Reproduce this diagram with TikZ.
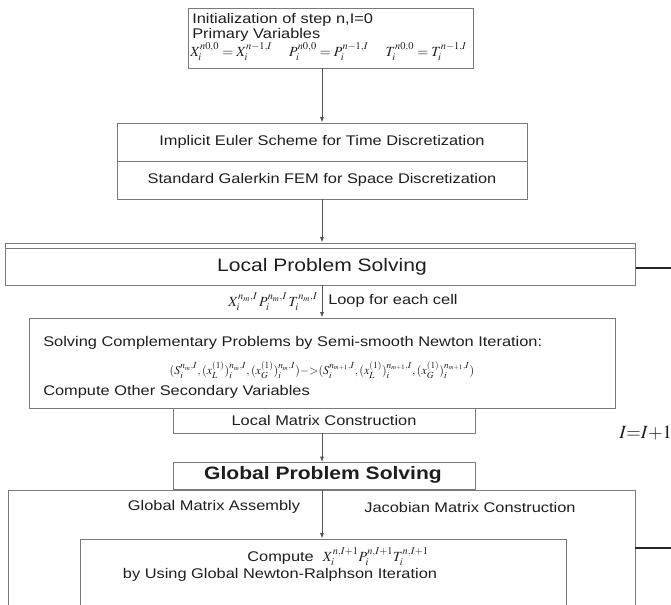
\documentclass[tikz,border=0pt]{standalone}
\usepackage{mathptmx}
\usepackage[no-math]{fontspec}
\setmainfont{Liberation Sans}[FakeStretch=1.17]
\usetikzlibrary{arrows.meta}
\definecolor{lg}{HTML}{7A7A7A}
\definecolor{tx}{HTML}{1E1E1E}
\begin{document}
\begin{tikzpicture}[x=0.75pt,y=-0.75pt,
  font=\fontsize{10.5}{12}\selectfont,
  every node/.style={text=tx, inner sep=0pt},
  sz/.style 2 args={minimum width={#1*0.75pt}, minimum height={#2*0.75pt}},
  box/.style={draw=lg, line width=0.7pt, inner sep=0pt},
  arr/.style={draw=lg!70!black, line width=0.6pt, -{Latex[length=4pt,width=3pt]}},
  ln/.style={draw=black!85, line width=0.9pt},
  big/.style={font=\fontsize{13.5}{16}\selectfont},
  bigb/.style={font=\fontsize{13.5}{16}\selectfont\bfseries}]
\useasboundingbox (0,0) rectangle (671,605);

% top box
\node[box, sz={285}{60}] (init) at (330.5,38) {};
\node[anchor=west] (i1) at (192,20) {Initialization of step n,I=0};
\node[anchor=west] (i2) at (192,35) {Primary Variables};
\node[anchor=west] (i3) at (190,52) {$X_i^{n0,0}=X_i^{n-1,I}\quad\; P_i^{n0,0}=P_i^{n-1,I}\quad\; T_i^{n0,0}=T_i^{n-1,I}$};

% Euler / Galerkin
\node[box, sz={410}{38}] (eul) at (322,142) {Implicit Euler Scheme for Time Discretization};
\node[box, sz={410}{38}] (gal) at (322,180) {Standard Galerkin FEM for Space Discretization};
\draw[arr] (init.south -| eul.north) -- (eul.north);

% Local problem
\node[box, sz={630}{42}] (loc) at (320.5,264) {};
\draw[draw=lg, line width=0.7pt] ([yshift=-4.5pt]loc.north west) -- ([yshift=-4.5pt]loc.north east);
\node[big] (loct) at (322,267) {Local Problem Solving};
\draw[arr] (gal.south) -- (gal.south |- loc.north);
\coordinate (r1) at (671,268);
\draw[ln] (loc.east |- r1) -- (r1);

% Solving box
\node[box, sz={586}{90}] (sol) at (322,363) {};
\node[anchor=west] (s1) at (43,343) {Solving Complementary Problems by Semi-smooth Newton Iteration:};
\node (s2) at (322,370) {\fontsize{9}{10}\selectfont$(S_i^{n_m,I},(x_L^{(1)})_i^{n_m,I},(x_G^{(1)})_i^{n_m,I}){-}{>}(S_i^{n_{m+1},I},(x_L^{(1)})_i^{n_{m+1},I},(x_G^{(1)})_i^{n_{m+1},I})$};
\node[anchor=west] (s3) at (43,392) {Compute Other Secondary Variables};
\draw[arr] (sol.north |- loc.south) -- (sol.north);
\node[anchor=east] (lab1) at (318,302) {$X_i^{n_m,I}\,P_i^{n_m,I}\,T_i^{n_m,I}$};
\node[anchor=west] (lab2) at (328,301) {Loop for each cell};

% Local matrix construction
\node[box, sz={302}{25}] (lmc) at (324,420.5) {Local Matrix Construction};

% I = I + 1
\node[anchor=west] (inc) at (619,433) {\fontsize{14}{16}\selectfont$I{=}I{+}1$};

% Global problem
\node[box, sz={302}{27}] (glo) at (324,476) {};
\node[bigb] (glot) at (323,475) {Global Problem Solving};
\draw[arr] (lmc.south -| sol.north) -- (glo.north -| sol.north);

% outer global box
\node[box, sz={627}{150}] (out) at (321.5,565) {};
\node (gma) at (214,507) {Global Matrix Assembly};
\node (jmc) at (470,507) {Jacobian Matrix Construction};
\coordinate (r2) at (671,548);
\draw[ln] (out.east |- r2) -- (r2);

% compute box
\node[box, sz={486}{102}] (cmp) at (323,590) {};
\node (c1) at (338,557) {Compute \ $X_i^{n,I+1}P_i^{n,I+1}T_i^{n,I+1}$};
\node (c2) at (280,575) {by Using Global Newton-Ralphson Iteration};
\draw[arr] (glo.south -| sol.north) -- (cmp.north -| sol.north);
\end{tikzpicture}
\end{document}
